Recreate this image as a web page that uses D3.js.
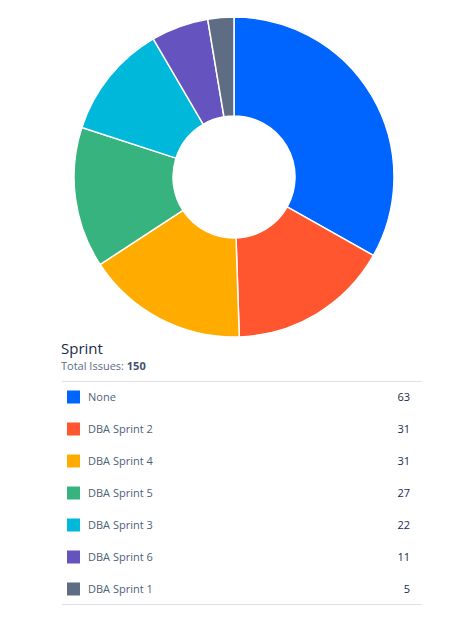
<!DOCTYPE html>
<html><head><meta charset="utf-8">
<script src="https://cdn.jsdelivr.net/npm/d3@7"></script>
<style>
html,body{margin:0;padding:0;background:#fff;}
svg{display:block;font-family:"Segoe UI","Open Sans","Noto Sans",sans-serif;}
</style></head>
<body>
<svg id="c" width="465" height="618"></svg>
<script>
const categories = ["None","DBA Sprint 2","DBA Sprint 4","DBA Sprint 5","DBA Sprint 3","DBA Sprint 6","DBA Sprint 1"];
const values = [63,31,31,27,22,11,5];
const colors = ["#0065FF","#FF5630","#FFAB00","#36B37E","#00B8D9","#6554C0","#5E6C84"];
const title = "Sprint";
const totalLabel = "Total Issues: ";
const totalIssues = 150;

const data = categories.map((c,i)=>({name:c, value:values[i], color:colors[i]}));
const svg = d3.select("#c");
const cx = 234, cy = 177, rO = 160, rI = 61;

const pie = d3.pie().value(d=>d.value).sort(null);
const arc = d3.arc().innerRadius(rI).outerRadius(rO);
svg.append("g").attr("transform",`translate(${cx},${cy})`)
  .selectAll("path").data(pie(data)).join("path")
  .attr("d",arc).attr("fill",d=>d.data.color)
  .attr("stroke","#fff").attr("stroke-width",1.5);

svg.append("text").attr("x",61).attr("y",354).attr("font-size",15).attr("fill","#172B4D").text(title);
const t = svg.append("text").attr("x",61).attr("y",370).attr("font-size",11).attr("fill","#5E6C84");
t.append("tspan").text(totalLabel);
t.append("tspan").attr("font-weight","bold").attr("fill","#42526E").text(totalIssues);

const x0 = 62, x1 = 422;
svg.append("line").attr("x1",x0).attr("x2",x1).attr("y1",381.5).attr("y2",381.5).attr("stroke","#DFE1E6");

const y = d3.scaleBand().domain(categories).range([381, 605]);
const rows = svg.append("g").selectAll("g").data(data).join("g")
  .attr("transform",d=>`translate(0,${y(d.name)+y.bandwidth()/2})`);
rows.append("rect").attr("x",67).attr("y",-6.5).attr("width",13).attr("height",13).attr("fill",d=>d.color);
rows.append("text").attr("x",88).attr("y",4).attr("font-size",11).attr("fill","#505F79").text(d=>d.name);
rows.append("text").attr("x",410).attr("y",4).attr("font-size",11).attr("text-anchor","end").attr("fill","#172B4D").text(d=>d.value);

svg.append("line").attr("x1",x0).attr("x2",x1).attr("y1",604.5).attr("y2",604.5).attr("stroke","#DFE1E6");
</script>
</body></html>
